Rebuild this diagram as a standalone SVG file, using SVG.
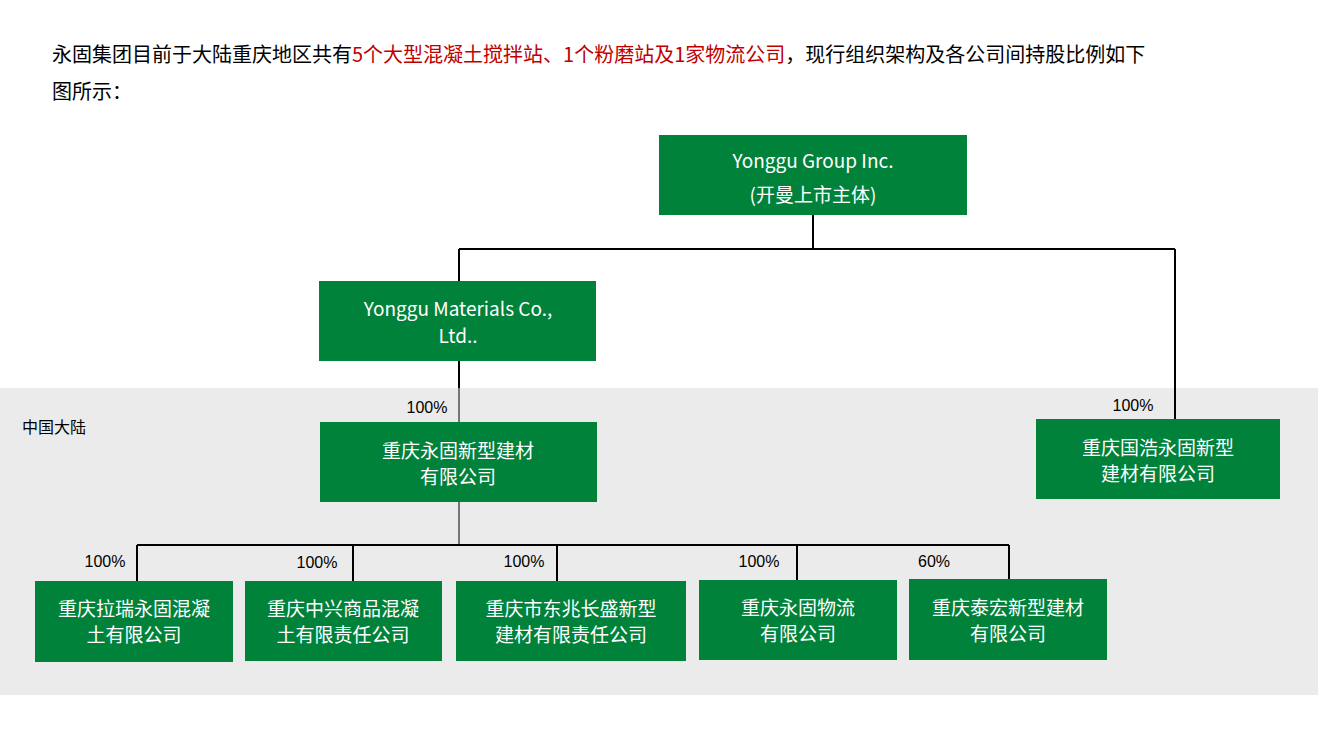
<svg xmlns="http://www.w3.org/2000/svg" width="1318" height="741" viewBox="0 0 1318 741">
<style>
.box{fill:#00823b}
.bt{fill:#fff;font-family:"Noto Sans CJK SC","Noto Sans",sans-serif;font-size:19px;text-anchor:middle}
.pct{fill:#000;font-family:"Liberation Sans",sans-serif;font-size:16px;text-anchor:middle}
.ln{stroke:#000;stroke-width:2;fill:none}
.t{font-family:"Noto Sans CJK SC",sans-serif;font-size:20px;fill:#000}
</style>
<rect width="1318" height="741" fill="#fff"/>
<rect x="0" y="388" width="1318" height="307" fill="#ebebeb"/>
<text class="t" x="52" y="62">永固集团目前于大陆重庆地区共有<tspan fill="#c00000">5个大型混凝土搅拌站、1个粉磨站及1家物流公司</tspan>，现行组织架构及各公司间持股比例如下</text>
<text class="t" x="52" y="99">图所示：</text>
<text x="22" y="433" font-family="Noto Sans CJK SC,sans-serif" font-size="16">中国大陆</text>
<g id="connectors">
<path class="ln" d="M813 215V249M459 249H1175M459 249V281M1175 249V419M459 361V388"/>
<path d="M459 388V422M459 502V545" stroke="#777" stroke-width="2"/>
<path class="ln" d="M137 545H1009M137 545V581M353 545V581M557 545V581M797 545V580M1009 545V579"/>
</g>
<g class="pct">
<text x="427" y="413">100%</text>
<text x="1133" y="411">100%</text>
<text x="105" y="567">100%</text>
<text x="317" y="568">100%</text>
<text x="524" y="567">100%</text>
<text x="759" y="567">100%</text>
<text x="934" y="567">60%</text>
</g>
<g id="n0"><rect class="box" x="659" y="135" width="308" height="80"/><text class="bt" x="813" y="168">Yonggu Group Inc.</text><text class="bt" x="813" y="202">(开曼上市主体)</text></g>
<g id="n1"><rect class="box" x="319" y="281" width="277" height="80"/><text class="bt" x="458" y="316">Yonggu Materials Co.,</text><text class="bt" x="458" y="343">Ltd..</text></g>
<g id="n2"><rect class="box" x="320" y="422" width="277" height="80"/><text class="bt" x="458" y="458">重庆永固新型建材</text><text class="bt" x="458" y="484">有限公司</text></g>
<g id="n3"><rect class="box" x="1036" y="419" width="244" height="80"/><text class="bt" x="1158" y="455">重庆国浩永固新型</text><text class="bt" x="1158" y="481">建材有限公司</text></g>
<g id="n4"><rect class="box" x="35" y="581" width="198" height="81"/><text class="bt" x="134" y="616">重庆拉瑞永固混凝</text><text class="bt" x="134" y="642">土有限公司</text></g>
<g id="n5"><rect class="box" x="245" y="581" width="197" height="80"/><text class="bt" x="343" y="616">重庆中兴商品混凝</text><text class="bt" x="343" y="642">土有限责任公司</text></g>
<g id="n6"><rect class="box" x="456" y="581" width="230" height="80"/><text class="bt" x="571" y="616">重庆市东兆长盛新型</text><text class="bt" x="571" y="642">建材有限责任公司</text></g>
<g id="n7"><rect class="box" x="699" y="580" width="198" height="80"/><text class="bt" x="798" y="615">重庆永固物流</text><text class="bt" x="798" y="641">有限公司</text></g>
<g id="n8"><rect class="box" x="909" y="579" width="198" height="81"/><text class="bt" x="1008" y="615">重庆泰宏新型建材</text><text class="bt" x="1008" y="641">有限公司</text></g>
</svg>
